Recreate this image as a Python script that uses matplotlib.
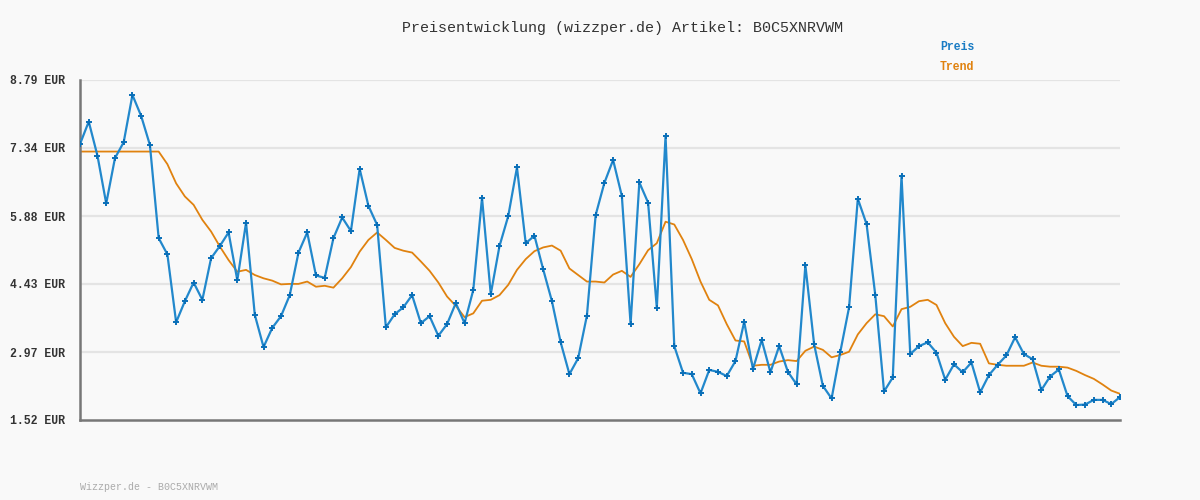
import matplotlib
matplotlib.use("Agg")
import matplotlib.pyplot as plt

# Preis (Artikel B0C5XNRVWM)
preis = [
    7.42, 7.90, 7.17, 6.15, 7.12, 7.46, 8.47, 8.02, 7.40, 5.41,
    5.06, 3.61, 4.06, 4.46, 4.09, 4.98, 5.24, 5.53, 4.51, 5.74,
    3.77, 3.08, 3.49, 3.74, 4.19, 5.10, 5.53, 4.61, 4.56, 5.41,
    5.85, 5.56, 6.89, 6.10, 5.69, 3.50, 3.78, 3.93, 4.19, 3.59,
    3.74, 3.32, 3.57, 4.02, 3.59, 4.30, 6.27, 4.21, 5.24, 5.88,
    6.92, 5.30, 5.46, 4.74, 4.06, 3.18, 2.50, 2.84, 3.75, 5.90,
    6.59, 7.08, 6.31, 3.57, 6.60, 6.17, 3.92, 7.59, 3.10, 2.53,
    2.50, 2.09, 2.59, 2.55, 2.46, 2.78, 3.62, 2.61, 3.23, 2.54,
    3.10, 2.55, 2.28, 4.83, 3.14, 2.25, 1.98, 2.98, 3.93, 6.25,
    5.71, 4.19, 2.13, 2.43, 6.74, 2.93, 3.10, 3.18, 2.96, 2.38,
    2.71, 2.54, 2.75, 2.11, 2.48, 2.70, 2.90, 3.29, 2.93, 2.82,
    2.16, 2.45, 2.60, 2.03, 1.84, 1.85, 1.95, 1.95, 1.86, 2.01,
]

trend = [
    7.26, 7.26, 7.26, 7.26, 7.26, 7.26, 7.26, 7.26, 7.26, 7.26,
    6.99, 6.58, 6.30, 6.12, 5.80, 5.55, 5.23, 4.94, 4.69, 4.73,
    4.62, 4.55, 4.50, 4.42, 4.43, 4.43, 4.48, 4.37, 4.39, 4.35,
    4.55, 4.79, 5.12, 5.37, 5.53, 5.37, 5.20, 5.14, 5.10, 4.91,
    4.71, 4.46, 4.16, 3.96, 3.72, 3.80, 4.07, 4.09, 4.19, 4.41,
    4.73, 4.96, 5.13, 5.21, 5.25, 5.14, 4.76, 4.62, 4.48, 4.48,
    4.46, 4.63, 4.71, 4.58, 4.85, 5.15, 5.30, 5.76, 5.70, 5.37,
    4.96, 4.48, 4.09, 3.97, 3.57, 3.22, 3.20, 2.68, 2.70, 2.70,
    2.77, 2.80, 2.78, 3.00, 3.09, 3.02, 2.86, 2.91, 2.98, 3.35,
    3.59, 3.78, 3.74, 3.52, 3.89, 3.94, 4.06, 4.09, 3.98, 3.59,
    3.30, 3.10, 3.17, 3.15, 2.73, 2.70, 2.68, 2.68, 2.68, 2.75,
    2.68, 2.66, 2.66, 2.64, 2.57, 2.48, 2.40, 2.28, 2.15, 2.08,
]

y_ticks = [1.52, 2.97, 4.43, 5.88, 7.34, 8.79]

bg = "#f9f9f9"
mono = "Liberation Mono"

fig = plt.figure(figsize=(12, 5), dpi=100, facecolor=bg)
ax = fig.add_axes([80 / 1200, 1 - 420 / 500, 1040 / 1200, 340 / 500])
ax.set_facecolor(bg)

x = list(range(len(preis)))

# Grid lines
for t in y_ticks[1:]:
    ax.axhline(t, color="#e4e4e4", lw=1.6, zorder=0)

ax.plot(x, trend, color="#e0820f", lw=1.3, zorder=2)
ax.plot(x, preis, color="#2288cc", lw=1.6, zorder=3,
        marker="+", ms=4, mew=1.4, mec="#0a6fb8")

ax.set_xlim(0, len(preis) - 1)
ax.set_ylim(y_ticks[0], y_ticks[-1])
ax.set_xticks([])
ax.set_yticks(y_ticks)
ax.set_yticklabels([f"{t:.2f} EUR" for t in y_ticks],
                   fontfamily=mono, fontweight="bold", fontsize=8.3, color="#333333")
ax.tick_params(axis="y", length=0, pad=11)

for side in ["top", "right"]:
    ax.spines[side].set_visible(False)
for side in ["left", "bottom"]:
    ax.spines[side].set_color("#777777")
    ax.spines[side].set_linewidth(1.8)

fig.text(623 / 1200, 1 - 28 / 500, "Preisentwicklung (wizzper.de) Artikel: B0C5XNRVWM",
         ha="center", va="center", fontfamily=mono, fontsize=10.8, color="#333333")

fig.text(940 / 1200, 1 - 47 / 500, "Preis", ha="left", va="center",
         fontfamily=mono, fontweight="bold", fontsize=8.3, color="#1a7cc4")
fig.text(940 / 1200, 1 - 67 / 500, "Trend", ha="left", va="center",
         fontfamily=mono, fontweight="bold", fontsize=8.3, color="#e0820f")

fig.text(80 / 1200, 1 - 487 / 500, "Wizzper.de - B0C5XNRVWM", ha="left", va="center",
         fontfamily=mono, fontsize=7.2, color="#aaaaaa")

fig.savefig("out.png", dpi=100, facecolor=bg)
